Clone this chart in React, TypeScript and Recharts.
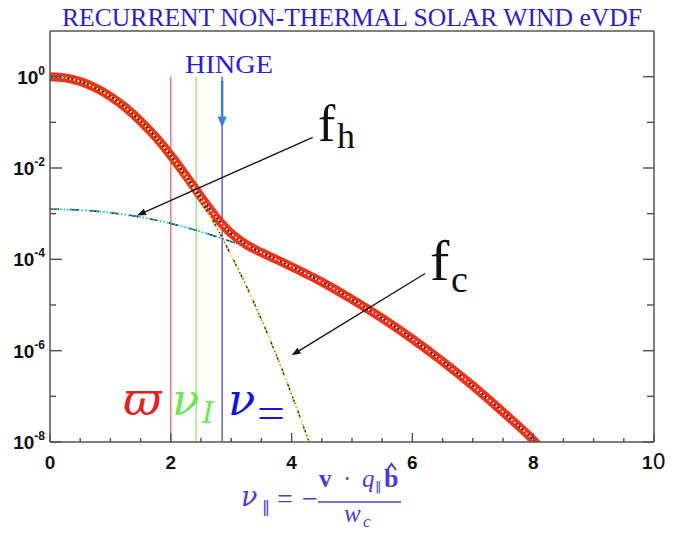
import React from "react"
import { LineChart, Line, XAxis, YAxis, ReferenceLine } from "recharts"

// normalised speed along B (units of w_c)
const coreV = [0, 0.25, 0.5, 0.75, 1, 1.25, 1.5, 1.75, 2, 2.25, 2.5, 2.75, 3, 3.25, 3.5, 3.75, 4, 4.25, 4.5]
const coreF = [1, 0.939, 0.779, 0.57, 0.368, 0.21, 0.105, 0.0468, 0.0183, 6.3e-3, 1.93e-3, 5.2e-4, 1.23e-4, 2.6e-5, 4.8e-6, 7.8e-7, 1.1e-7, 1.4e-8, 1.6e-9]

const haloV = [0, 0.5, 1, 1.5, 2, 2.5, 3, 3.5, 4, 4.5, 5, 5.5, 6, 6.5, 7, 7.5, 8, 8.5]
const haloF = [1.26e-3, 1.2e-3, 1.05e-3, 8.4e-4, 6.1e-4, 4.0e-4, 2.45e-4, 1.36e-4, 6.9e-5, 3.2e-5, 1.33e-5, 5.1e-6, 1.8e-6, 5.8e-7, 1.7e-7, 4.5e-8, 1.1e-8, 2.5e-9]

const totalV = [0, 0.25, 0.5, 0.75, 1, 1.25, 1.5, 1.75, 2, 2.25, 2.5, 2.75, 3, 3.25, 3.5, 3.75, 4, 4.5, 5, 5.5, 6, 6.5, 7, 7.5, 8, 8.25]
const totalF = [1.0, 0.94, 0.78, 0.571, 0.369, 0.211, 0.106, 0.0475, 0.0189, 6.8e-3, 2.33e-3, 8.4e-4, 3.7e-4, 2.1e-4, 1.41e-4, 9.9e-5, 6.9e-5, 3.2e-5, 1.33e-5, 5.1e-6, 1.8e-6, 5.8e-7, 1.7e-7, 4.5e-8, 1.1e-8, 4.7e-9]

const xTicks = [0, 0.5, 1, 1.5, 2, 2.5, 3, 3.5, 4, 4.5, 5, 5.5, 6, 6.5, 7, 7.5, 8, 8.5, 9, 9.5, 10]
const yTicks = [1e-8, 1e-7, 1e-6, 1e-5, 1e-4, 1e-3, 1e-2, 1e-1, 1]

// marker positions: varpi, nu_I, nu_= (hinge)
const markerV = [2.0, 2.42, 2.85]
const markerColors = ["#f06464", "#8ee878", "#4a4ad8"]

const toRows = (v: number[], f: number[]) => v.map((x, i) => ({ v: x, f: f[i] }))
const core = toRows(coreV, coreF)
const halo = toRows(haloV, haloF)
const total = toRows(totalV, totalF)

const AX = "#555"
const W = 694
const H = 533

const arrow = (color: string, width: number, len: number, half: number) => (p: any) => {
  const { x1, y1, x2, y2 } = p
  const a = Math.atan2(y2 - y1, x2 - x1)
  const bx = x2 - len * Math.cos(a)
  const by = y2 - len * Math.sin(a)
  const nx = -Math.sin(a) * half
  const ny = Math.cos(a) * half
  return (
    <g>
      <line x1={x1} y1={y1} x2={bx} y2={by} stroke={color} strokeWidth={width} />
      <polygon points={`${x2},${y2} ${bx + nx},${by + ny} ${bx - nx},${by - ny}`} fill={color} />
    </g>
  )
}

const BottomTick = (p: any) => {
  const { x, y, payload } = p
  const v = payload.value
  const major = v % 2 === 0
  return (
    <g>
      <line x1={x} x2={x} y1={y} y2={y - (major ? 9 : 4)} stroke={AX} strokeWidth={1.5} />
      {major && (
        <text x={x} y={y + 27} textAnchor="middle" fontFamily="Liberation Sans" fontWeight="bold" fontSize={19} fill="#111">
          {v === 10 ? (
            <>
              <tspan>1</tspan>
              <tspan fontWeight="normal" fontFamily="DejaVu Sans" fontSize={21}>0</tspan>
            </>
          ) : v}
        </text>
      )}
    </g>
  )
}

const TopTick = (p: any) => {
  const { x, y, payload } = p
  const major = payload.value % 2 === 0
  return <line x1={x} x2={x} y1={y} y2={y + (major ? 7 : 4)} stroke={AX} strokeWidth={1.5} />
}

const LeftTick = (p: any) => {
  const { x, y, payload } = p
  const e = Math.round(Math.log10(payload.value))
  const major = e % 2 === 0
  return (
    <g>
      <line x1={x} x2={x + (major ? 12 : 6)} y1={y} y2={y} stroke={AX} strokeWidth={1.5} />
      {major && (
        <text x={x - 5} y={y + 7} textAnchor="end" fontFamily="Liberation Sans" fontWeight="bold" fontSize={19} fill="#111">
          10<tspan dy={-9} fontSize={12}>{e}</tspan>
        </text>
      )}
    </g>
  )
}

const RightTick = (p: any) => {
  const { x, y, payload } = p
  const e = Math.round(Math.log10(payload.value))
  const major = e % 2 === 0
  return <line x1={x} x2={x - (major ? 11 : 7)} y1={y} y2={y} stroke={AX} strokeWidth={1.5} />
}

const serif = "Liberation Serif"
const mathBlue = "#4b3bd6"

function Overlay() {
  return (
    <svg width={W} height={H} style={{ position: "absolute", left: 0, top: 0, pointerEvents: "none" }}>
      <text x={62} y={26} fontFamily={serif} fontSize={25} fill="#2b1dcc" textLength={580} lengthAdjust="spacingAndGlyphs">
        RECURRENT NON-THERMAL SOLAR WIND eVDF
      </text>
      <text x={185} y={73} fontFamily={serif} fontSize={26} fill="#2d20d8" textLength={88} lengthAdjust="spacingAndGlyphs">
        HINGE
      </text>

      <text x={318} y={141} fontFamily={serif} fontSize={52} fill="#111">f</text>
      <text x={337} y={148} fontFamily={serif} fontSize={36} fill="#111">h</text>
      <text x={430} y={280} fontFamily={serif} fontSize={58} fill="#111">f</text>
      <text x={451} y={292} fontFamily={serif} fontSize={38} fill="#111">c</text>

      <text x={123} y={415} fontFamily="DejaVu Serif" fontStyle="italic" fontSize={47} fill="#e02424">ϖ</text>
      <text x={172} y={415} fontFamily="DejaVu Serif" fontStyle="italic" fontSize={45} fill="#6ee850">ν</text>
      <text x={202} y={423} fontFamily="DejaVu Serif" fontStyle="italic" fontSize={30} fill="#6ee850">I</text>
      <text x={228} y={415} fontFamily="DejaVu Serif" fontStyle="italic" fontSize={45} fill="#1414e0">ν</text>
      <text x={257} y={427} fontFamily={serif} fontSize={42} fill="#1414e0" textLength={28} lengthAdjust="spacingAndGlyphs">=</text>

      <g fill={mathBlue}>
        <text x={241} y={506} fontFamily="DejaVu Serif" fontStyle="italic" fontSize={27}>ν</text>
        <text x={262} y={512} fontFamily="DejaVu Sans" fontSize={16}>‖</text>
        <text x={277} y={508} fontFamily={serif} fontSize={28}>=</text>
        <text x={302} y={508} fontFamily={serif} fontSize={28}>−</text>
        <text x={319} y={487} fontFamily={serif} fontWeight="bold" fontSize={25}>v</text>
        <text x={343} y={487} fontFamily={serif} fontSize={25}>·</text>
        <text x={362} y={487} fontFamily={serif} fontStyle="italic" fontSize={25}>q</text>
        <text x={375} y={491} fontFamily="DejaVu Sans" fontSize={13}>‖</text>
        <text x={384} y={487} fontFamily={serif} fontWeight="bold" fontSize={26}>b</text>
        <path d="M387 470 L391.5 464 L396 470" fill="none" stroke={mathBlue} strokeWidth={2} />
        <line x1={318} x2={401} y1={502} y2={502} stroke={mathBlue} strokeWidth={1.5} />
        <text x={344} y={522} fontFamily={serif} fontStyle="italic" fontSize={25}>w</text>
        <text x={363} y={527} fontFamily={serif} fontStyle="italic" fontSize={17}>c</text>
      </g>
    </svg>
  )
}

export default function App() {
  return (
    <div style={{ position: "absolute", left: 0, top: 0, width: W, height: H, background: "#fff" }}>
      <LineChart width={W} height={H} margin={{ top: 30, right: 39, bottom: 90, left: 49 }}>
        <XAxis dataKey="v" type="number" domain={[0, 10]} ticks={xTicks} interval={0} height={1}
          tickSize={0} tickMargin={0} tickLine={false} axisLine={{ stroke: AX, strokeWidth: 1.5 }} tick={<BottomTick />} />
        <XAxis xAxisId="t" orientation="top" dataKey="v" type="number" domain={[0, 10]} ticks={xTicks} interval={0} height={1}
          tickSize={0} tickMargin={0} tickLine={false} axisLine={{ stroke: AX, strokeWidth: 1.5 }} tick={<TopTick />} />
        <YAxis type="number" scale="log" domain={[1e-8, 10]} allowDataOverflow ticks={yTicks} interval={0} width={1}
          tickSize={0} tickMargin={0} tickLine={false} axisLine={{ stroke: AX, strokeWidth: 1.5 }} tick={<LeftTick />} />
        <YAxis yAxisId="r" orientation="right" type="number" scale="log" domain={[1e-8, 10]} allowDataOverflow ticks={yTicks}
          interval={0} width={1} tickSize={0} tickMargin={0} tickLine={false} axisLine={{ stroke: AX, strokeWidth: 1.5 }} tick={<RightTick />} />

        {markerV.map((m, i) => (
          <ReferenceLine key={m} segment={[{ x: m, y: 1 }, { x: m, y: 1e-8 }]} stroke={markerColors[i]} strokeWidth={1.3} />
        ))}

        {/* halo */}
        <Line data={halo} dataKey="f" type="monotone" stroke="#111" strokeWidth={1.4} strokeDasharray="9 11" dot={false} activeDot={false} isAnimationActive={false} />
        <Line data={halo} dataKey="f" type="monotone" stroke="#2fc0d2" strokeWidth={2} strokeDasharray="0.1 3.5" strokeLinecap="round" dot={false} activeDot={false} isAnimationActive={false} />

        {/* total */}
        <Line data={total} dataKey="f" type="monotone" stroke="#ee331d" strokeWidth={9} dot={false} activeDot={false} isAnimationActive={false} />
        <Line data={total} dataKey="f" type="monotone" stroke="#222" strokeWidth={1.4} strokeDasharray="10 6" dot={false} activeDot={false} isAnimationActive={false} />
        <Line data={total} dataKey="f" type="monotone" stroke="#fff" strokeWidth={1.8} strokeDasharray="0.1 4" strokeLinecap="round" dot={false} activeDot={false} isAnimationActive={false} />

        {/* core */}
        <Line data={core} dataKey="f" type="monotone" stroke="#222" strokeWidth={1.4} strokeDasharray="8 3 1 3" dot={false} activeDot={false} isAnimationActive={false} />
        <Line data={core} dataKey="f" type="monotone" stroke="#f2e238" strokeWidth={2} strokeDasharray="0.1 4" strokeLinecap="round" dot={false} activeDot={false} isAnimationActive={false} />

        <ReferenceLine segment={[{ x: 2.85, y: 0.81 }, { x: 2.85, y: 0.077 }]} ifOverflow="visible" shape={arrow("#3a7fd0", 2.5, 11, 4.5)} />
        <ReferenceLine segment={[{ x: 4.35, y: 0.047 }, { x: 1.44, y: 9.1e-4 }]} ifOverflow="visible" shape={arrow("#111", 1.3, 9, 3.5)} />
        <ReferenceLine segment={[{ x: 6.21, y: 4.9e-5 }, { x: 4.0, y: 7.9e-7 }]} ifOverflow="visible" shape={arrow("#111", 1.3, 9, 3.5)} />
      </LineChart>
      <Overlay />
    </div>
  )
}
